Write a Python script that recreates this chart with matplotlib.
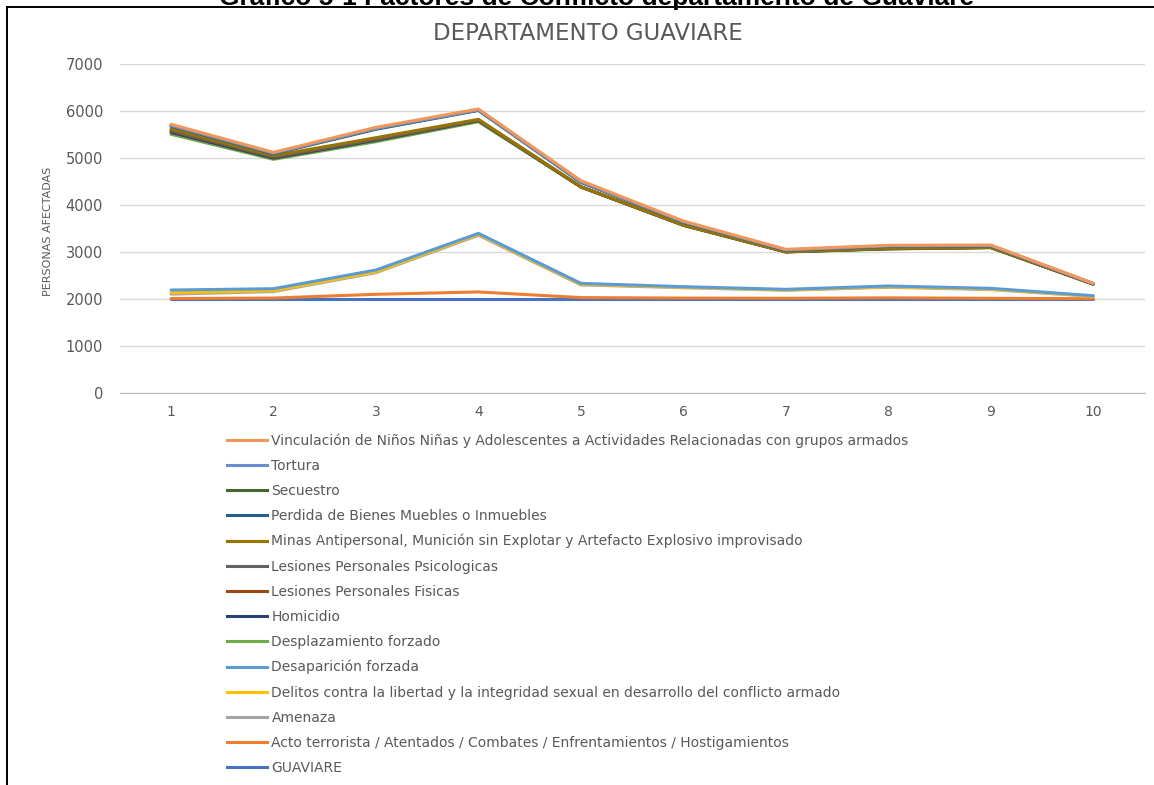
import numpy as np
import matplotlib
matplotlib.use('Agg')
import matplotlib.pyplot as plt
from matplotlib.lines import Line2D

plt.rcParams['font.family'] = ['DejaVu Sans']

# categories on the x axis
categorias = [1, 2, 3, 4, 5, 6, 7, 8, 9, 10]

# series values (stacked line chart, bottom series first)
guaviare = [2000, 2000, 2000, 2000, 2000, 2000, 2000, 2000, 2000, 2000]
acto_terrorista = [10, 20, 100, 150, 30, 20, 15, 25, 15, 5]
amenaza = [94, 137, 461, 1206, 270, 220, 170, 225, 185, 50]
delitos_sexuales = [30, 20, 20, 20, 15, 10, 10, 10, 10, 5]
desaparicion = [57, 42, 36, 21, 18, 12, 11, 17, 17, 10]
desplazamiento = [3313, 2753, 2730, 2375, 2047, 1303, 794, 787, 865, 245]
homicidio = [40, 25, 30, 20, 5, 5, 3, 5, 3, 2]
lesiones_fisicas = [30, 20, 20, 10, 2, 2, 2, 3, 2, 1]
lesiones_psico = [15, 10, 10, 6, 1, 1, 1, 2, 1, 1]
minas = [28, 22, 25, 15, 2, 1, 1, 6, 2, 1]
perdida_bienes = [60, 40, 180, 190, 90, 60, 30, 40, 30, 5]
secuestro = [10, 10, 10, 6, 10, 6, 5, 6, 5, 2]
tortura = [5, 4, 6, 4, 3, 2, 2, 3, 2, 1]
vinculacion = [25, 18, 25, 20, 25, 18, 13, 13, 12, 5]

nombres = [
    'GUAVIARE',
    'Acto terrorista / Atentados / Combates / Enfrentamientos / Hostigamientos',
    'Amenaza',
    'Delitos contra la libertad y la integridad sexual en desarrollo del conflicto armado',
    'Desaparición forzada',
    'Desplazamiento forzado',
    'Homicidio',
    'Lesiones Personales Fisicas',
    'Lesiones Personales Psicologicas',
    'Minas Antipersonal, Munición sin Explotar y Artefacto Explosivo improvisado',
    'Perdida de Bienes Muebles o Inmuebles',
    'Secuestro',
    'Tortura',
    'Vinculación de Niños Niñas y Adolescentes a Actividades Relacionadas con grupos armados',
]
series = [guaviare, acto_terrorista, amenaza, delitos_sexuales, desaparicion,
          desplazamiento, homicidio, lesiones_fisicas, lesiones_psico, minas,
          perdida_bienes, secuestro, tortura, vinculacion]
colores = ['#4472C4', '#ED7D31', '#A5A5A5', '#FFC000', '#5B9BD5', '#70AD47',
           '#264478', '#9E480E', '#636363', '#997300', '#255E91', '#43682B',
           '#698ED0', '#F1975A']

W, H = 1154, 785
fig = plt.figure(figsize=(W / 100, H / 100), dpi=100)

def fx(px):
    return px / W

def fy(py):
    return 1 - py / H

ax_left, ax_right = 119.8, 1144.5
ax = fig.add_axes([fx(ax_left), fy(393), fx(ax_right) - fx(ax_left), fy(64) - fy(393)])

acumulado = np.cumsum(np.array(series, dtype=float), axis=0)
for nombre, valores, color in zip(nombres, acumulado, colores):
    ax.plot(categorias, valores, color=color, lw=2.2, solid_capstyle='round',
            solid_joinstyle='round', label=nombre)

ax.set_xlim(0.5, 10.5)
ax.set_ylim(0, 7000)
ax.set_yticks(np.arange(0, 7001, 1000))
ax.set_xticks(categorias)
ax.grid(axis='y', color='#D9D9D9', lw=1)
ax.set_axisbelow(True)
for lado in ['top', 'right', 'left']:
    ax.spines[lado].set_visible(False)
ax.spines['bottom'].set_color('#BFBFBF')
ax.tick_params(length=0, labelsize=10, colors='#595959')
ax.tick_params(axis='y', labelsize=10.5, pad=12)
ax.tick_params(axis='x', pad=9)
ax.set_ylabel('PERSONAS AFECTADAS', fontsize=8, color='#595959')
ax.yaxis.set_label_coords((53 - ax_left) / (ax_right - ax_left), 0.49)

fig.text(fx(588), fy(34), 'DEPARTAMENTO GUAVIARE', ha='center', va='center',
         fontsize=16.5, color='#595959')

# legend, vertical list below the plot
handles = [Line2D([0], [0], color=c, lw=2.2) for c in colores][::-1]
fig.legend(handles, nombres[::-1], loc='upper left',
           bbox_to_anchor=(fx(227), fy(433)), frameon=False, fontsize=10,
           labelcolor='#595959', handlelength=2.9, handletextpad=0.3,
           labelspacing=0.80, borderaxespad=0, borderpad=0)

# outer document title, cut at top as in the source page
fig.text(fx(597), fy(5), 'Gráfico 5-1 Factores de Conflicto departamento de Guaviare',
         ha='center', va='baseline', fontsize=19, fontweight='bold',
         family=['Liberation Sans', 'DejaVu Sans'], color='black')

# frame of the embedded chart
fig.add_artist(Line2D([fx(7), fx(1154)], [fy(7), fy(7)], color='black', lw=1.4))
fig.add_artist(Line2D([fx(7), fx(7)], [fy(7), fy(785)], color='black', lw=1.4))
fig.add_artist(Line2D([fx(675), fx(675)], [fy(0), fy(7)], color='black', lw=1.4))

fig.savefig('out.png', dpi=100)
